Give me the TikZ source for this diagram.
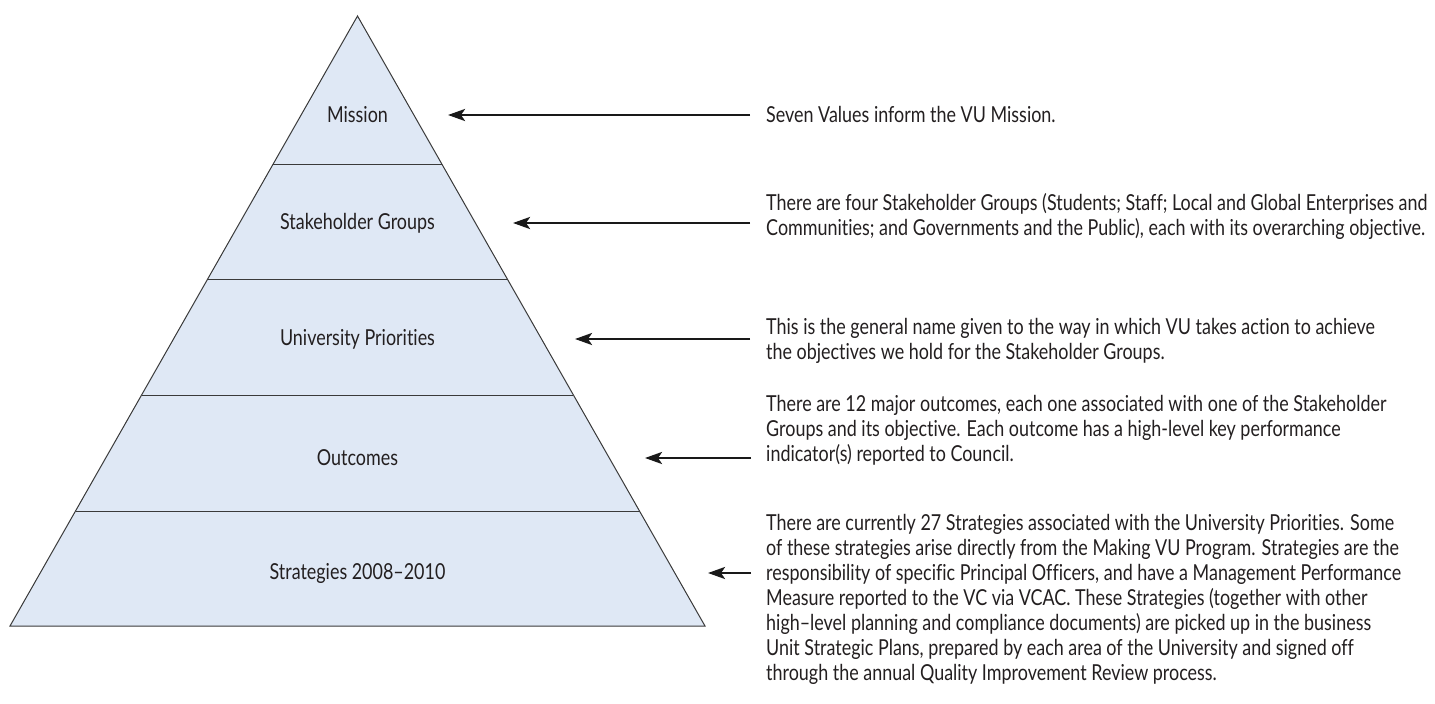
\documentclass[tikz,border=0pt]{standalone}
\usepackage{fontspec}
\setmainfont{Lato}[FakeStretch=0.815, Ligatures=CommonOff]
\usetikzlibrary{arrows.meta}
\definecolor{bandfill}{HTML}{DFE8F5}
\definecolor{edgegray}{HTML}{3A3A3A}
\definecolor{inkgray}{HTML}{231F20}

\tikzset{
  txt/.style={font=\fontsize{22}{25}\selectfont, text=inkgray, inner sep=0pt},
  level/.style={txt, anchor=center},
  note/.style={txt, anchor=west, align=left},
  pointer/.style={draw=black!90, line width=2.6pt,
    -{Stealth[length=17pt,width=12pt,inset=4pt]}},
  bandline/.style={draw=edgegray, line width=1pt},
}

\begin{document}
\begin{tikzpicture}[x=1pt,y=-1pt]
  \useasboundingbox (0,0) rectangle (1435,704);

  % pyramid corners
  \coordinate (apex) at (357.5,16);
  \coordinate (bl) at (10,626);
  \coordinate (br) at (705,626);

  \fill[bandfill] (apex) -- (br) -- (bl) -- cycle;

  % band dividers
  \draw[bandline] (273.2,164) -- (441.8,164);
  \draw[bandline] (207.7,279) -- (507.3,279);
  \draw[bandline] (141.6,395) -- (573.4,395);
  \draw[bandline] (75.5,511) -- (639.5,511);

  \draw[bandline, line join=miter] (apex) -- (br) -- (bl) -- cycle;

  % level labels
  \node[level] (mission) at (357.5,115) {Mission};
  \node[level] (stake) at (357.5,223) {Stakeholder Groups};
  \node[level] (prio) at (357.5,339) {University Priorities};
  \node[level] (outc) at (357.5,458) {Outcomes};
  \node[level] (strat) at (357.5,573) {Strategies 2008--2010};

  % descriptions
  \node[note] (n1) at (766,114) {Seven Values inform the VU Mission.};
  \node[note] (n2) at (766,216) {There are four Stakeholder Groups (Students; Staff; Local and Global Enterprises and\\Communities; and Governments and the Public), each with its overarching objective.};
  \node[note] (n3) at (766,341) {This is the general name given to the way in which VU takes action to achieve\\the objectives we hold for the Stakeholder Groups.};
  \node[note] (n4) at (766,430) {There are 12 major outcomes, each one associated with one of the Stakeholder\\Groups and its objective. Each outcome has a high-level key performance\\indicator(s) reported to Council.};
  \node[note] (n5) at (766,599) {There are currently 27 Strategies associated with the University Priorities. Some\\of these strategies arise directly from the Making VU Program. Strategies are the\\responsibility of specific Principal Officers, and have a Management Performance\\Measure reported to the VC via VCAC. These Strategies (together with other\\high--level planning and compliance documents) are picked up in the business\\Unit Strategic Plans, prepared by each area of the University and signed off\\through the annual Quality Improvement Review process.};

  % arrow tails and tips
  \coordinate (t1) at (750,115); \coordinate (h1) at (448,115);
  \coordinate (t2) at (750,223); \coordinate (h2) at (513,223);
  \coordinate (t3) at (750,339); \coordinate (h3) at (575,339);
  \coordinate (t4) at (751,458); \coordinate (h4) at (645,458);
  \coordinate (t5) at (751,573); \coordinate (h5) at (708,573);

  \draw[pointer] (t1) -- (h1);
  \draw[pointer] (t2) -- (h2);
  \draw[pointer] (t3) -- (h3);
  \draw[pointer] (t4) -- (h4);
  \draw[pointer] (t5) -- (h5);
\end{tikzpicture}
\end{document}
